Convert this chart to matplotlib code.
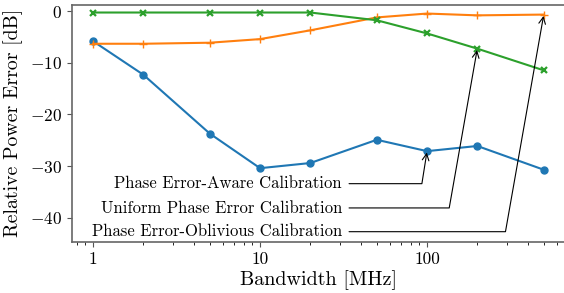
import numpy as np
import matplotlib
matplotlib.use("Agg")
import matplotlib.pyplot as plt

plt.rcParams['font.family'] = 'serif'
plt.rcParams['font.serif'] = ['cmr10']
plt.rcParams['mathtext.fontset'] = 'cm'
plt.rcParams['axes.formatter.use_mathtext'] = True
plt.rcParams['axes.unicode_minus'] = True

# bandwidth [MHz]
bandwidth = [1, 2, 5, 10, 20, 50, 100, 200, 500]
# relative power error [dB]
aware = [-5.8, -12.3, -23.7, -30.4, -29.4, -24.9, -27.1, -26.1, -30.7]
uniform = [-0.25, -0.25, -0.25, -0.25, -0.25, -1.75, -4.3, -7.25, -11.45]
oblivious = [-6.3, -6.3, -6.1, -5.4, -3.7, -1.2, -0.45, -0.8, -0.65]

labels = ["Phase Error-Aware Calibration",
          "Uniform Phase Error Calibration",
          "Phase Error-Oblivious Calibration"]

fig = plt.figure(figsize=(5.64, 2.93), dpi=100)
ax = fig.add_axes([0.1277, 0.174, 0.8723, 0.8106])

ax.plot(bandwidth, aware, color='tab:blue', marker='o', markersize=5, linewidth=1.5)
ax.plot(bandwidth, oblivious, color='tab:orange', marker='+', markersize=6, linewidth=1.5)
ax.plot(bandwidth, uniform, color='tab:green', marker='x', markersize=5,
        markeredgewidth=1.6, linewidth=1.5)

ax.set_xscale('log')
ax.set_xlim(0.748, 661)
ax.set_ylim(-44.7, 1.3)
ax.set_yticks([0, -10, -20, -30, -40])
ax.set_xticks([1, 10, 100])
ax.set_xticklabels(['1', '10', '100'])

ax.set_xlabel('Bandwidth [MHz]', fontsize=14.5, labelpad=2)
ax.set_ylabel('Relative Power Error [dB]', fontsize=14.3, labelpad=5)
ax.tick_params(labelsize=12.5, colors='#555555', labelcolor='black')

for side in ['left', 'bottom', 'top']:
    ax.spines[side].set_color('#666666')
    ax.spines[side].set_linewidth(1.2)
ax.spines['right'].set_visible(False)

# annotations: text anchor (data), target point, angle of the final segment
notes = [
    (labels[0], -33.4, 100, aware[6], 81),
    (labels[1], -38.1, 200, uniform[7], 80),
    (labels[2], -42.7, 500, oblivious[8], 80),
]
for text, ty, px, py, ang in notes:
    ax.annotate(text, xy=(px, py), xytext=(31, ty), textcoords='data',
                ha='right', va='center', fontsize=12,
                arrowprops=dict(arrowstyle='->', color='black', lw=0.8,
                                connectionstyle=f"angle,angleA=0,angleB={ang},rad=0",
                                relpos=(1, 0.5), shrinkA=3, shrinkB=1))

fig.savefig('out.png', dpi=100)
